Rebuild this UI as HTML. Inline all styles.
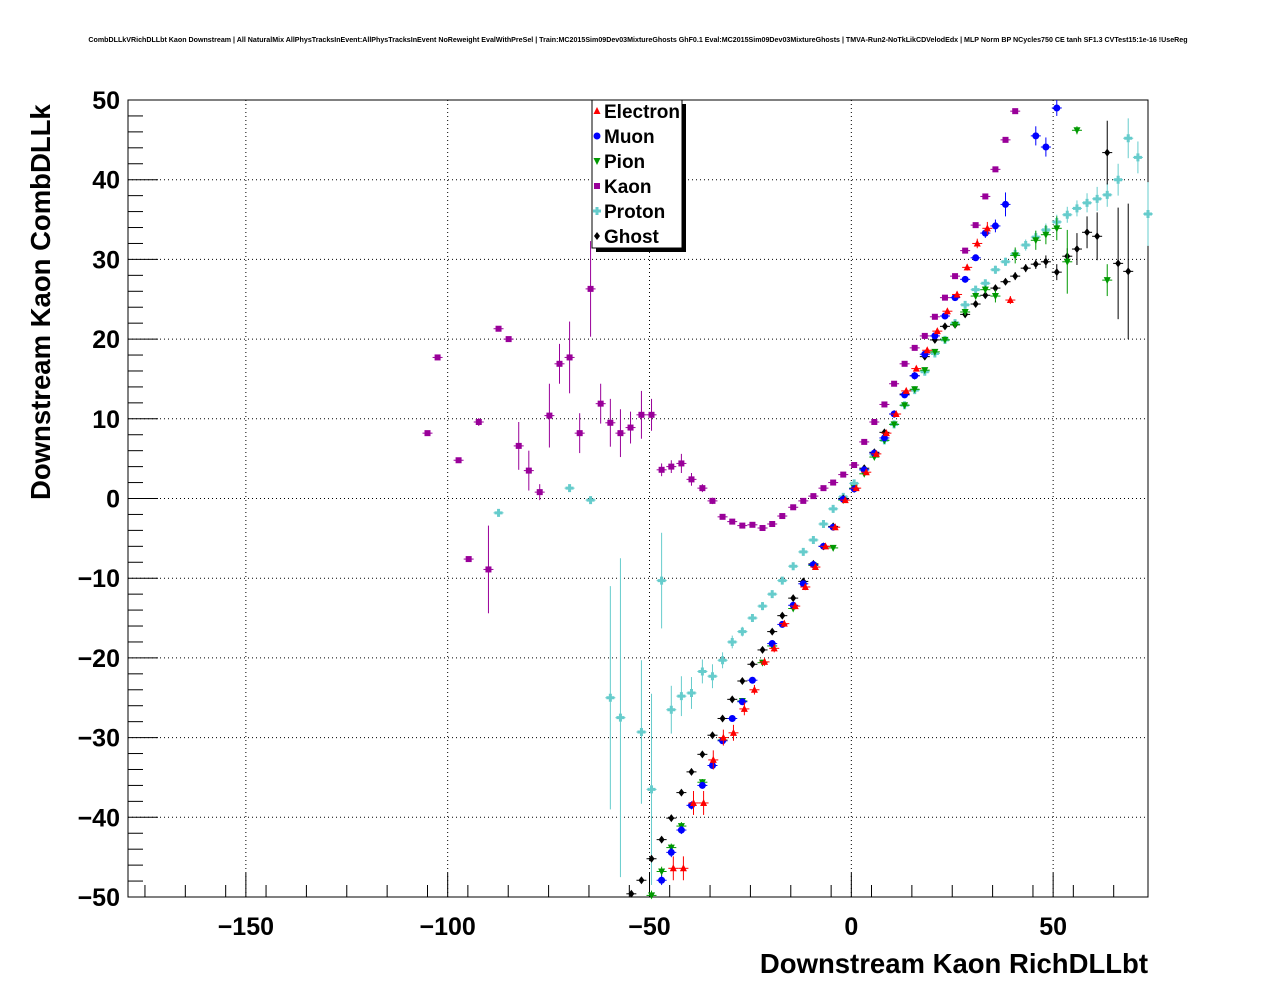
<!DOCTYPE html>
<html><head><meta charset="utf-8"><style>
body{margin:0;background:#fff;}
svg{display:block;font-family:"Liberation Sans",sans-serif;}
</style></head><body>
<svg id="c" width="1276" height="996">
<text x="638" y="42" font-size="7.1" font-weight="bold" text-anchor="middle">CombDLLkVRichDLLbt Kaon Downstream | All NaturalMix AllPhysTracksInEvent:AllPhysTracksInEvent NoReweight EvalWithPreSel | Train:MC2015Sim09Dev03MixtureGhosts GhF0.1 Eval:MC2015Sim09Dev03MixtureGhosts | TMVA-Run2-NoTkLikCDVelodEdx | MLP Norm BP NCycles750 CE tanh SF1.3 CVTest15:1e-16 !UseReg</text>
<g id="grid"></g>
<rect x="128" y="100" width="1020" height="797" fill="none" stroke="#000"/>
<g id="axes"></g>
<g id="marks"></g>
<text x="1148" y="973" font-size="27.5" font-weight="bold" text-anchor="end">Downstream Kaon RichDLLbt</text>
<text transform="translate(50,500) rotate(-90)" font-size="27.5" font-weight="bold" text-anchor="start">Downstream Kaon CombDLLk</text>
<g id="legend">
<rect x="596" y="104" width="90" height="148" fill="#000"/>
<rect x="592" y="100" width="90" height="148" fill="#fff" stroke="#000"/>
</g>
</svg>
<script>
const xTicks=[-150,-100,-50,0,50];
const yTicks=[-50,-40,-30,-20,-10,0,10,20,30,40,50];
const kaonX=[-105,-102.5,-97.3,-94.8,-92.3,-89.9,-87.4,-84.9,-82.4,-79.9,-77.2,-74.8,-72.3,-69.8,-67.3,-64.6,-62.1,-59.7,-57.2,-54.7,-52,-49.5,-47,-44.6,-42.1,-39.6,-36.9,-34.4,-31.9,-29.5,-27,-24.5,-22,-19.6,-17.1,-14.4,-11.9,-9.4,-6.9,-4.5,-2,0.7,3.2,5.7,8.2,10.6,13.2,15.7,18.2,20.7,23.2,25.7,28.2,30.8,33.2,35.7,38.2,40.6];
const kaonY=[8.2,17.7,4.8,-7.6,9.6,-8.9,21.3,20,6.6,3.5,0.8,10.4,16.9,17.7,8.2,26.3,11.9,9.5,8.2,8.9,10.5,10.5,3.6,4.0,4.4,2.4,1.3,-0.3,-2.3,-2.9,-3.4,-3.3,-3.7,-3.2,-2.2,-1.1,-0.3,0.3,1.3,2.0,3.0,4.2,7.1,9.6,11.8,14.4,16.9,18.9,20.4,22.8,25.2,27.9,31.1,34.3,37.9,41.3,45.0,48.6];
const kaonE=[0.3,0.3,0.3,0.3,0.5,5.5,0.3,0.3,3,2.5,1,4,2.5,4.5,2.5,6,2.5,3,3,2,3,2,0.8,0.8,1.2,0.8,0.5,0.4,0.3,0.3,0.3,0.3,0.3,0.3,0.3,0.3,0.3,0.3,0.3,0.3,0.3,0.3,0.3,0.3,0.3,0.3,0.3,0.3,0.3,0.3,0.3,0.3,0.3,0.3,0.3,0.3,0.3,0.3];
const protonX=[-87.4,-69.8,-64.6,-59.7,-57.2,-52,-49.5,-47,-44.6,-42.1,-39.6,-36.9,-34.4,-31.9,-29.5,-27,-24.5,-22,-19.6,-17.1,-14.4,-11.9,-9.4,-6.9,-4.5,-2,0.7,3.2,5.7,8.2,10.6,13.2,15.7,18.2,20.7,23.2,25.7,28.2,30.8,33.2,35.7,38.2,40.6,43.2,45.7,48.2,50.9,53.5,55.9,58.4,60.9,63.4,66.1,68.6,71,73.5];
const protonY=[-1.8,1.3,-0.2,-25,-27.5,-29.3,-36.5,-10.3,-26.5,-24.8,-24.4,-21.7,-22.3,-20.3,-18,-16.7,-15,-13.5,-12,-10.3,-8.5,-6.7,-5.2,-3.2,-1.3,0.2,1.9,3.6,5.5,7.3,9.3,11.7,13.6,15.9,18.2,19.9,22,24.3,26.2,27,28.7,29.7,30.7,31.8,32.8,33.7,34.7,35.6,36.4,37.1,37.6,38.1,40,45.2,42.8,35.7];
const protonE=[0.4,0.4,0.4,14,20,9,12,6,3,2.5,2,1.5,1.5,1,0.8,0.6,0.5,0.5,0.4,0.4,0.3,0.3,0.3,0.3,0.3,0.3,0.3,0.3,0.3,0.3,0.3,0.3,0.3,0.3,0.3,0.3,0.3,0.3,0.4,0.4,0.5,0.5,0.6,0.7,0.8,0.8,0.9,1,1,1.2,1.5,1.5,2,2.5,2,4];
const electronX=[-44.1,-41.6,-39.1,-36.6,-34.2,-31.7,-29.2,-26.5,-24,-21.5,-19.1,-16.6,-13.9,-11.4,-8.9,-6.4,-4,-1.5,1.2,3.7,6.2,8.7,11.1,13.6,16.1,18.8,21.3,23.8,26.2,28.7,31.2,33.7,39.4];
const electronY=[-46.4,-46.4,-38.2,-38.2,-32.8,-30,-29.4,-26.4,-24,-20.5,-18.8,-15.7,-13.5,-11.1,-8.6,-6,-3.6,-0.2,1.3,3.3,5.6,8.2,10.6,13.5,16.3,18.6,21,23.5,25.6,29,32,33.9,24.9];
const electronE=[1.5,1.5,1.5,1.5,1.2,1,1,0.8,0.6,0.5,0.5,0.4,0.4,0.4,0.3,0.3,0.3,0.3,0.3,0.3,0.3,0.3,0.3,0.3,0.3,0.3,0.3,0.3,0.4,0.4,0.6,0.8,0.5];
const muonX=[-47,-44.6,-42.1,-39.6,-36.9,-34.4,-31.9,-29.5,-27,-24.5,-19.6,-17.1,-14.4,-11.9,-9.4,-6.9,-4.5,-2,0.7,3.2,5.7,8.2,10.6,13.2,15.7,18.2,20.7,23.2,25.7,28.2,30.8,33.2,35.7,38.2,45.7,48.2,50.9];
const muonY=[-47.9,-44.4,-41.6,-38.5,-36,-33.5,-30.4,-27.6,-25.5,-22.8,-18.2,-15.8,-13.4,-10.7,-8.3,-6,-3.6,-0.1,1.2,3.6,5.7,7.6,10.6,13,15.4,18.1,20.4,22.9,25.2,27.5,30.2,33.3,34.2,36.9,45.5,44.1,49];
const muonE=[0.6,0.6,0.5,0.5,0.4,0.4,0.4,0.3,0.3,0.3,0.3,0.3,0.3,0.3,0.3,0.3,0.3,0.3,0.3,0.3,0.3,0.3,0.3,0.3,0.3,0.3,0.3,0.3,0.3,0.3,0.4,0.6,0.8,1.5,1.2,1.2,1];
const pionX=[-49.5,-47,-44.6,-42.1,-36.9,-31.9,-27,-22,-19.6,-14.4,-9.4,-4.5,-2,0.7,3.2,5.7,8.2,10.6,13.2,15.7,18.2,20.7,23.2,25.7,28.2,30.8,33.2,35.7,40.6,45.7,48.2,50.9,53.5,55.9,63.4];
const pionY=[-49.8,-46.8,-43.8,-41.1,-35.6,-30.3,-25.4,-20.6,-18.5,-13.8,-8.4,-6.2,-0.2,1.3,3.1,5.2,7.3,9.3,11.7,13.7,16.1,18.4,19.9,21.8,23.4,25.4,26.2,25.4,30.5,32.4,33.1,33.9,29.7,46.2,27.4];
const pionE=[0.6,0.6,0.5,0.5,0.4,0.4,0.3,0.3,0.3,0.3,0.3,0.3,0.3,0.3,0.3,0.3,0.3,0.3,0.3,0.3,0.3,0.3,0.3,0.3,0.3,0.4,0.5,0.8,1,1.2,1.2,1.5,4,0.5,2];
const ghostX=[-54.5,-52,-49.5,-47,-44.6,-42.1,-39.6,-36.9,-34.4,-31.9,-29.5,-27,-24.5,-22,-19.6,-17.1,-14.4,-11.9,-9.4,-6.9,-4.5,-2,0.7,3.2,5.7,8.2,10.6,13.2,15.7,18.2,20.7,23.2,25.7,28.2,30.8,33.2,35.7,38.2,40.6,43.2,45.7,48.2,50.9,53.5,55.9,58.4,60.9,63.4,66.1,68.6];
const ghostY=[-49.6,-47.9,-45.2,-42.8,-40.1,-36.9,-34.3,-32.1,-29.7,-27.6,-25.2,-22.9,-20.8,-19,-16.7,-14.7,-12.5,-10.4,-8.2,-6,-3.5,0,1.2,3.8,5.8,8.3,10.6,13.1,15.4,17.8,19.9,21.6,21.8,23.1,24.4,25.5,26.4,27.2,27.9,28.9,29.4,29.7,28.4,30.4,31.3,33.4,32.9,43.4,29.5,28.5];
const ghostE=[0.3,0.3,0.3,0.3,0.3,0.3,0.3,0.3,0.3,0.3,0.3,0.3,0.3,0.3,0.3,0.3,0.3,0.3,0.3,0.3,0.3,0.3,0.3,0.3,0.3,0.3,0.3,0.3,0.3,0.3,0.3,0.3,0.3,0.3,0.3,0.3,0.4,0.4,0.5,0.5,0.6,0.8,1,1,2,2,3,4,7,8.5];
const legendLabels=["Electron","Muon","Pion","Kaon","Proton","Ghost"];

const NS="http://www.w3.org/2000/svg";
const X0=128,X1=1148,Y0=100,Y1=897,XMIN=-179.2,XMAX=73.5,YMIN=-50,YMAX=50;
function sx(v){return X0+(v-XMIN)/(XMAX-XMIN)*(X1-X0);}
function sy(v){return Y1-(v-YMIN)/(YMAX-YMIN)*(Y1-Y0);}
function mk(tag,attrs,parent){const e=document.createElementNS(NS,tag);for(const k in attrs)e.setAttribute(k,attrs[k]);parent.appendChild(e);return e;}
const grid=document.getElementById('grid'),axes=document.getElementById('axes'),marks=document.getElementById('marks'),leg=document.getElementById('legend');
xTicks.forEach(t=>{
  const x=sx(t);
  const g=mk('line',{x1:x,x2:x,y1:Y0,y2:Y1,stroke:'#000','stroke-dasharray':'1,3','stroke-width':1},grid);
  
  
  mk('line',{x1:x,x2:x,y1:Y1,y2:Y1-24,stroke:'#000'},axes);
  const lb=mk('text',{x:x,y:935,'font-size':25,'font-weight':'bold','text-anchor':'middle'},axes);
  lb.textContent=(t<0?'\u2212':'')+Math.abs(t);
  
  
});
for(let t=-175;t<=70;t+=10){if(t%50!==0)mk('line',{x1:sx(t),x2:sx(t),y1:Y1,y2:Y1-12,stroke:'#000'},axes);}
yTicks.forEach(t=>{
  const y=sy(t);
  if(t>-50&&t<50){const g=mk('line',{x1:X0,x2:X1,y1:y,y2:y,stroke:'#000','stroke-dasharray':'1,3','stroke-width':1},grid);
  
  }
  mk('line',{x1:X0,x2:X0+30,y1:y,y2:y,stroke:'#000'},axes);
  const lb=mk('text',{x:120,y:y+9,'font-size':25,'font-weight':'bold','text-anchor':'end'},axes);
  lb.textContent=(t<0?'\u2212':'')+Math.abs(t);
  
  
});
for(let t=-48;t<=50;t+=2){if(t%10!==0)mk('line',{x1:X0,x2:X0+15,y1:sy(t),y2:sy(t),stroke:'#000'},axes);}
function marker(shape,x,y,col,p){
  if(shape==='tri')return mk('polygon',{points:`${x},${y-4} ${x-3.5},${y+3} ${x+3.5},${y+3}`,fill:col},p);
  if(shape==='dtri')return mk('polygon',{points:`${x},${y+4} ${x-3.5},${y-3} ${x+3.5},${y-3}`,fill:col},p);
  if(shape==='circ')return mk('circle',{cx:x,cy:y,r:3.5,fill:col},p);
  if(shape==='sq')return mk('rect',{x:x-3,y:y-3,width:6,height:6,fill:col},p);
  if(shape==='cross')return mk('polygon',{points:`${x-1.5},${y-4} ${x+1.5},${y-4} ${x+1.5},${y-1.5} ${x+4},${y-1.5} ${x+4},${y+1.5} ${x+1.5},${y+1.5} ${x+1.5},${y+4} ${x-1.5},${y+4} ${x-1.5},${y+1.5} ${x-4},${y+1.5} ${x-4},${y-1.5} ${x-1.5},${y-1.5}`,fill:col},p);
  return mk('polygon',{points:`${x},${y-4} ${x+3},${y} ${x},${y+4} ${x-3},${y}`,fill:col},p);
}
const series=[
 {n:'kaon',xs:kaonX,ys:kaonY,es:kaonE,c:'#990099',s:'sq'},
 {n:'proton',xs:protonX,ys:protonY,es:protonE,c:'#66cccc',s:'cross'},
 {n:'ghost',xs:ghostX,ys:ghostY,es:ghostE,c:'#000000',s:'diam'},
 {n:'pion',xs:pionX,ys:pionY,es:pionE,c:'#009900',s:'dtri'},
 {n:'muon',xs:muonX,ys:muonY,es:muonE,c:'#0000ff',s:'circ'},
 {n:'electron',xs:electronX,ys:electronY,es:electronE,c:'#ff0000',s:'tri'}];
const hw=5;
series.forEach(S=>{
  const g=mk('g',{},marks);
  
  
  S.xs.forEach((xv,i)=>{
    const x=sx(xv),y=sy(S.ys[i]);
    if(y<Y0-4||y>Y1+4)return;
    const e=S.es[i];
    mk('line',{x1:x-hw,x2:x+hw,y1:y,y2:y,stroke:S.c,'stroke-width':1},g);
    mk('line',{x1:x,x2:x,y1:Math.max(Y0,sy(S.ys[i]+e)),y2:Math.min(Y1,sy(S.ys[i]-e)),stroke:S.c,'stroke-width':1},g);
    const m=marker(S.s,x,y,S.c,g);
    
    
  });
});
const legStyle={electron:['tri','#ff0000'],muon:['circ','#0000ff'],pion:['dtri','#009900'],kaon:['sq','#990099'],proton:['cross','#66cccc'],ghost:['diam','#000000']};
legendLabels.forEach((l,i)=>{
  const y=111+i*25;
  const st=legStyle[l.toLowerCase()];
  const m=marker(st[0],597,y,st[1],leg);
  
  
  const t=mk('text',{x:604,y:y+7,'font-size':19,'font-weight':'bold'},leg);
  t.textContent=l;
  
  
});
</script>
</body></html>
